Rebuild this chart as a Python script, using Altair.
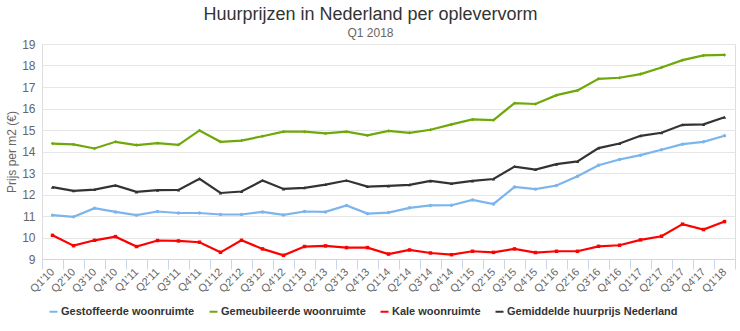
import altair as alt
import pandas as pd

quarters = ["Q1'10", "Q2'10", "Q3'10", "Q4'10", "Q1'11", "Q2'11", "Q3'11", "Q4'11",
            "Q1'12", "Q2'12", "Q3'12", "Q4'12", "Q1'13", "Q2'13", "Q3'13", "Q4'13",
            "Q1'14", "Q2'14", "Q3'14", "Q4'14", "Q1'15", "Q2'15", "Q3'15", "Q4'15",
            "Q1'16", "Q2'16", "Q3'16", "Q4'16", "Q1'17", "Q2'17", "Q3'17", "Q4'17",
            "Q1'18"]

gestoffeerd = [11.04, 10.96, 11.36, 11.19, 11.04, 11.21, 11.14, 11.14, 11.07, 11.07,
               11.19, 11.05, 11.21, 11.19, 11.49, 11.11, 11.16, 11.38, 11.49, 11.50, 11.75,
               11.56, 12.35, 12.25, 12.42, 12.85, 13.36, 13.63, 13.83, 14.08, 14.34, 14.45, 14.73]

gemeubileerd = [14.37, 14.33, 14.14, 14.45, 14.30, 14.39, 14.31, 14.98, 14.45, 14.51,
                14.71, 14.92, 14.92, 14.84, 14.92, 14.75, 14.96, 14.87, 15.01, 15.26, 15.49,
                15.46, 16.25, 16.21, 16.62, 16.84, 17.38, 17.43, 17.60, 17.91, 18.25, 18.47, 18.49]

kaal = [10.10, 9.62, 9.87, 10.04, 9.58, 9.86, 9.84, 9.78, 9.31, 9.87,
        9.47, 9.17, 9.58, 9.61, 9.53, 9.53, 9.23, 9.42, 9.28, 9.20, 9.36,
        9.31, 9.47, 9.30, 9.36, 9.36, 9.59, 9.64, 9.89, 10.06, 10.62, 10.37, 10.74]

gemiddeld = [12.34, 12.17, 12.23, 12.42, 12.12, 12.20, 12.21, 12.73, 12.07, 12.14,
             12.65, 12.26, 12.31, 12.46, 12.65, 12.37, 12.40, 12.45, 12.63, 12.51, 12.63,
             12.72, 13.30, 13.16, 13.41, 13.54, 14.16, 14.37, 14.73, 14.87, 15.24, 15.26, 15.59]

series_names = ["Gestoffeerde woonruimte", "Gemeubileerde woonruimte",
                "Kale woonruimte", "Gemiddelde huurprijs Nederland"]
series_values = [gestoffeerd, gemeubileerd, kaal, gemiddeld]
colors = ["#7cb5ec", "#6fa80a", "#ff0000", "#333333"]
shapes = ["circle", "diamond", "square", "triangle-up"]
y_ticks = list(range(9, 20))

rows = []
for name, vals in zip(series_names, series_values):
    for q, v in zip(quarters, vals):
        rows.append({"kwartaal": q, "serie": name, "reeks": name, "prijs": v})
df = pd.DataFrame(rows)

FONT = "Liberation Sans"

x_enc = alt.X(
    "kwartaal:N", sort=quarters, bandPosition=0.5,
    scale=alt.Scale(type="band", domain=quarters, paddingInner=0, paddingOuter=0),
    axis=alt.Axis(title=None, labelAngle=-45, labelAlign="right", labelBaseline="middle",
                  tickBand="extent", tickSize=10, tickColor="#ccd6eb", domainColor="#ccd6eb",
                  grid=False, labelColor="#666666", labelFont=FONT, labelFontSize=11,
                  labelPadding=1, labelOverlap=False),
)
y_enc = alt.Y(
    "prijs:Q",
    scale=alt.Scale(domain=[9, 19], nice=False, zero=False),
    axis=alt.Axis(title="Prijs per m2 (€)", values=y_ticks, domain=False, ticks=False,
                  gridColor="#e6e6e6", labelColor="#666666", labelFont=FONT,
                  labelFontSize=12, labelPadding=7, titleColor="#666666", titleFont=FONT,
                  titleFontSize=12, titleFontWeight="normal", titlePadding=3),
)
color_enc = alt.Color(
    "serie:N",
    scale=alt.Scale(domain=series_names, range=colors),
    legend=alt.Legend(title=None, orient="none", legendX=6, legendY=262, direction="horizontal",
                      columns=4, symbolType="stroke", symbolSize=64, symbolStrokeWidth=2,
                      labelFont=FONT, labelFontSize=11, labelFontWeight="bold",
                      labelColor="#333333", columnPadding=10, labelOffset=2, labelLimit=300),
)

lines = alt.Chart(df).mark_line(strokeWidth=2.2).encode(
    x=x_enc, y=y_enc, color=color_enc, detail="serie:N"
)
points = alt.Chart(df).mark_point(filled=True, size=12, opacity=1, strokeWidth=0).encode(
    x=x_enc, y=y_enc,
    fill=alt.Fill("reeks:N", scale=alt.Scale(domain=series_names, range=colors), legend=None),
    shape=alt.Shape("reeks:N", scale=alt.Scale(domain=series_names, range=shapes), legend=None),
)

chart = alt.layer(lines, points).properties(
    width=693, height=215,
    autosize="none",
    padding={"left": 42, "top": 44, "right": 5, "bottom": 72},
    title=alt.TitleParams(text="Huurprijzen in Nederland per oplevervorm", subtitle="Q1 2018",
                          anchor="middle", dx=-18, font=FONT, fontSize=18, fontWeight="normal",
                          color="#333333", subtitleFont=FONT, subtitleFontSize=12,
                          subtitleColor="#666666", subtitlePadding=4, offset=-1),
).resolve_scale(fill="independent", shape="independent").configure_view(stroke=None).configure(background="white")

chart.save("out.html", embed_options={"renderer": "svg", "actions": False})
